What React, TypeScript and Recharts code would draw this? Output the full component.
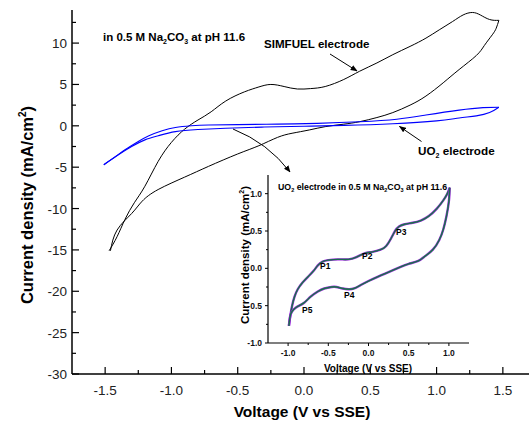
import { LineChart, Line, XAxis, YAxis } from 'recharts';

const FONT = '"Liberation Sans", Arial, Helvetica, sans-serif';

// main panel ticks
const mainXMajor = [-1.5, -1.0, -0.5, 0, 0.5, 1.0, 1.5];
const mainXMinor = [-1.25, -0.75, -0.25, 0.25, 0.75, 1.25];
const mainYMajor = [-30, -25, -20, -15, -10, -5, 0, 5, 10];
const mainYMinor = [-27.5, -22.5, -17.5, -12.5, -7.5, -2.5, 2.5, 7.5, 12.5];

// SIMFUEL electrode, anodic sweep (V vs SSE, mA/cm2)
const simfuelFwdV = [-1.47, -1.41, -1.35, -1.28, -1.2, -1.1, -1.0, -0.9, -0.8, -0.7, -0.59, -0.45, -0.34, -0.25, -0.15, -0.05, 0.05, 0.16, 0.3, 0.42, 0.55, 0.67, 0.8, 0.92, 1.02, 1.12, 1.2, 1.27, 1.33, 1.4, 1.47];
const simfuelFwdI = [-15.1, -13.4, -11.3, -9.3, -7.3, -4.3, -2.0, -0.4, 0.7, 1.7, 3.0, 4.1, 4.7, 5.0, 4.75, 4.45, 4.5, 4.75, 5.6, 6.6, 7.6, 8.6, 9.6, 10.6, 11.6, 12.6, 13.4, 13.7, 13.4, 12.85, 12.75];
// SIMFUEL electrode, cathodic sweep
const simfuelRevV = [1.47, 1.45, 1.42, 1.36, 1.3, 1.17, 1.05, 0.92, 0.8, 0.67, 0.55, 0.42, 0.3, 0.16, 0.04, -0.09, -0.2, -0.34, -0.5, -0.72, -0.9, -1.1, -1.22, -1.3, -1.41, -1.46];
const simfuelRevI = [12.75, 11.8, 11.0, 9.7, 8.5, 6.8, 5.2, 3.6, 2.5, 1.6, 1.0, 0.5, 0.2, -0.1, -0.5, -0.9, -1.4, -2.4, -3.4, -4.9, -6.2, -7.7, -9.1, -10.6, -12.6, -15.1];

// UO2 electrode
const uo2FwdV = [-1.51, -1.42, -1.35, -1.25, -1.17, -1.07, -0.97, -0.85, -0.72, -0.5, -0.2, 0.1, 0.42, 0.7, 0.92, 1.17, 1.35, 1.47];
const uo2FwdI = [-4.7, -3.7, -2.9, -1.9, -1.2, -0.6, -0.2, 0.0, 0.1, 0.15, 0.2, 0.3, 0.5, 0.8, 1.3, 1.9, 2.2, 2.25];
const uo2RevV = [1.47, 1.4, 1.3, 1.17, 1.0, 0.67, 0.3, 0.0, -0.3, -0.59, -0.8, -0.97, -1.1, -1.2, -1.3, -1.4, -1.51];
const uo2RevI = [2.25, 1.6, 1.2, 0.95, 0.6, 0.25, 0.05, -0.05, -0.15, -0.3, -0.45, -0.7, -1.2, -1.7, -2.5, -3.5, -4.7];

// inset: UO2 electrode, repeated cycles
const insetFwdV = [-0.99, -0.97, -0.95, -0.92, -0.88, -0.82, -0.75, -0.68, -0.63, -0.57, -0.5, -0.38, -0.25, -0.15, -0.05, 0.05, 0.15, 0.22, 0.28, 0.33, 0.38, 0.45, 0.55, 0.65, 0.75, 0.85, 0.93, 0.98, 1.01];
const insetFwdI = [-0.77, -0.62, -0.5, -0.38, -0.28, -0.19, -0.11, -0.03, 0.04, 0.09, 0.11, 0.12, 0.12, 0.15, 0.2, 0.22, 0.25, 0.3, 0.4, 0.5, 0.56, 0.59, 0.61, 0.64, 0.7, 0.8, 0.91, 1.0, 1.08];
const insetRevV = [1.01, 1.0, 0.97, 0.93, 0.88, 0.8, 0.7, 0.62, 0.5, 0.4, 0.25, 0.12, 0.0, -0.09, -0.18, -0.25, -0.32, -0.4, -0.46, -0.55, -0.63, -0.72, -0.8, -0.88, -0.93, -0.97, -0.99];
const insetRevI = [1.08, 0.9, 0.7, 0.52, 0.38, 0.25, 0.16, 0.1, 0.06, 0.02, -0.05, -0.11, -0.17, -0.22, -0.27, -0.28, -0.27, -0.25, -0.25, -0.27, -0.31, -0.38, -0.46, -0.51, -0.55, -0.62, -0.77];

const insetXMajor = [-1.0, -0.5, 0, 0.5, 1.0];
const insetXMinor = [-0.75, -0.25, 0.25, 0.75];
const insetYMajor = [-1.0, -0.5, 0, 0.5, 1.0];
const insetYMinor = [-0.75, -0.25, 0.25, 0.75];

const zip = (v: number[], i: number[]) => v.map((x, k) => ({ v: x, i: i[k] }));

const simfuelFwd = zip(simfuelFwdV, simfuelFwdI);
const simfuelRev = zip(simfuelRevV, simfuelRevI);
const uo2Fwd = zip(uo2FwdV, uo2FwdI);
const uo2Rev = zip(uo2RevV, uo2RevI);
const insetFwd = zip(insetFwdV, insetFwdI);
const insetRev = zip(insetRevV, insetRevI);

const fmt1 = (v: number) => (Math.abs(v) < 1e-9 ? '0.0' : v.toFixed(1));

function MainBottomTick(props: any) {
  const { x, y, payload } = props;
  const major = mainXMajor.includes(payload.value);
  return (
    <g>
      <line x1={x} x2={x} y1={y} y2={y - (major ? 7 : 4)} stroke="#000" strokeWidth={1.2} />
      {major && (
        <text x={x} y={y + 21} textAnchor="middle" fontSize={13.5} fill="#222" fontFamily={FONT}>
          {fmt1(payload.value)}
        </text>
      )}
    </g>
  );
}

function MainTopTick(props: any) {
  const { x, y, payload } = props;
  const major = mainXMajor.includes(payload.value);
  return <line x1={x} x2={x} y1={y} y2={y + (major ? 7 : 4)} stroke="#000" strokeWidth={1.2} />;
}

function MainLeftTick(props: any) {
  const { x, y, payload } = props;
  const major = mainYMajor.includes(payload.value);
  return (
    <g>
      <line x1={x} x2={x + (major ? 7 : 4)} y1={y} y2={y} stroke="#000" strokeWidth={1.2} />
      {major && (
        <text x={x - 5} y={y + 5} textAnchor="end" fontSize={13.5} fill="#222" fontFamily={FONT}>
          {payload.value}
        </text>
      )}
    </g>
  );
}

function InsetBottomTick(props: any) {
  const { x, y, payload } = props;
  const major = insetXMajor.includes(payload.value);
  return (
    <g>
      <line x1={x} x2={x} y1={y} y2={y + (major ? 3 : 2)} stroke="#000" />
      {major && (
        <text x={x} y={y + 13} textAnchor="middle" fontSize={8.5} fontWeight="bold" fill="#111" fontFamily={FONT}>
          {fmt1(payload.value)}
        </text>
      )}
    </g>
  );
}

function InsetLeftTick(props: any) {
  const { x, y, payload } = props;
  const major = insetYMajor.includes(payload.value);
  return (
    <g>
      <line x1={x} x2={x - (major ? 3 : 2)} y1={y} y2={y} stroke="#000" />
      {major && (
        <text x={x - 6} y={y + 3} textAnchor="end" fontSize={8.5} fontWeight="bold" fill="#111" fontFamily={FONT}>
          {fmt1(payload.value)}
        </text>
      )}
    </g>
  );
}

function InsetRightTick(props: any) {
  const { x, y, payload } = props;
  const major = insetYMajor.includes(payload.value);
  return <line x1={x} x2={x + (major ? 3 : 2)} y1={y} y2={y} stroke="#000" />;
}

function InsetTopTick(props: any) {
  const { x, y, payload } = props;
  const major = insetXMajor.includes(payload.value);
  return <line x1={x} x2={x} y1={y} y2={y - (major ? 3 : 2)} stroke="#000" />;
}

function InsetChart() {
  const cycles = [
    { key: 'p', color: '#9b1fe0', w: 2.4 },
    { key: 'g', color: '#1a9a3a', w: 1.4 },
    { key: 'b', color: '#1b2a6b', w: 0.5 },
  ];
  return (
    <div style={{ position: 'absolute', left: 230, top: 170 }}>
      <LineChart width={250} height={200} margin={{ top: 5, right: 11, bottom: 0, left: 0 }}>
        <XAxis
          type="number"
          dataKey="v"
          domain={[-1.25, 1.25]}
          allowDataOverflow
          ticks={[...insetXMajor, ...insetXMinor]}
          interval={0}
          tick={InsetBottomTick}
          tickLine={false}
          tickSize={0}
          tickMargin={0}
          height={27}
          axisLine={{ stroke: '#000', strokeWidth: 1.2 }}
        />
        <XAxis
          xAxisId="top"
          orientation="top"
          type="number"
          dataKey="v"
          domain={[-1.25, 1.25]}
          allowDataOverflow
          ticks={[...insetXMajor, ...insetXMinor]}
          interval={0}
          tick={InsetTopTick}
          tickLine={false}
          tickSize={0}
          tickMargin={0}
          height={0}
          axisLine={{ stroke: '#000', strokeWidth: 1.2 }}
        />
        <YAxis
          type="number"
          dataKey="i"
          domain={[-1, 1.25]}
          allowDataOverflow
          ticks={[...insetYMajor, ...insetYMinor]}
          interval={0}
          tick={InsetLeftTick}
          tickLine={false}
          tickSize={0}
          tickMargin={0}
          width={38}
          axisLine={{ stroke: '#000', strokeWidth: 1.2 }}
        />
        <YAxis
          yAxisId="right"
          orientation="right"
          type="number"
          dataKey="i"
          domain={[-1, 1.25]}
          allowDataOverflow
          ticks={[...insetYMajor, ...insetYMinor]}
          interval={0}
          tick={InsetRightTick}
          tickLine={false}
          tickSize={0}
          tickMargin={0}
          width={0}
          axisLine={{ stroke: '#000', strokeWidth: 1.2 }}
        />
        {cycles.map((c) => (
          <Line
            key={c.key + 'f'}
            data={insetFwd}
            dataKey="i"
            type="natural"
            stroke={c.color}
            strokeWidth={c.w}
            dot={false}
            isAnimationActive={false}
          />
        ))}
        {cycles.map((c) => (
          <Line
            key={c.key + 'r'}
            data={insetRev}
            dataKey="i"
            type="natural"
            stroke={c.color}
            strokeWidth={c.w}
            dot={false}
            isAnimationActive={false}
          />
        ))}
      </LineChart>
    </div>
  );
}

function Annotations() {
  const b = { fontFamily: FONT, fontWeight: 'bold' as const, fill: '#000' };
  return (
    <svg width={529} height={426} style={{ position: 'absolute', left: 0, top: 0, pointerEvents: 'none' }}>
      <defs>
        <marker id="ah" viewBox="0 0 10 10" refX="9" refY="5" markerWidth="7" markerHeight="7" orient="auto">
          <path d="M0,1 L10,5 L0,9 z" fill="#000" />
        </marker>
      </defs>
      <text x={103} y={41} fontSize={11.5} {...b}>
        in 0.5 M Na<tspan fontSize={7} dy={3}>2</tspan>
        <tspan dy={-3}>CO</tspan>
        <tspan fontSize={7} dy={3}>3</tspan>
        <tspan dy={-3}> at pH 11.6</tspan>
      </text>
      <text x={264} y={48} fontSize={11.6} {...b}>SIMFUEL electrode</text>
      <line x1={330} y1={54} x2={357} y2={71} stroke="#000" strokeWidth={1} markerEnd="url(#ah)" />
      <text x={418} y={155} fontSize={11.7} {...b}>
        UO<tspan fontSize={7} dy={3}>2</tspan>
        <tspan dy={-3}> electrode</tspan>
      </text>
      <line x1={421.5} y1={141.5} x2={399.5} y2={126.5} stroke="#000" strokeWidth={1} markerEnd="url(#ah)" />
      <path d="M233,129 Q268,143 290,172" fill="none" stroke="#000" strokeWidth={1} markerEnd="url(#ah)" />

      <text transform="translate(33,205) rotate(-90)" textAnchor="middle" fontSize={16.5} {...b}>
        Current density (mA/cm<tspan fontSize={10} dy={-7}>2</tspan>
        <tspan dy={7}>)</tspan>
      </text>
      <text x={302} y={417} textAnchor="middle" fontSize={15.5} {...b}>Voltage (V vs SSE)</text>

      {/* inset texts */}
      <text x={278} y={190} fontSize={8.8} {...b}>
        UO<tspan fontSize={5.5} dy={2}>2</tspan>
        <tspan dy={-2}> electrode in 0.5 M Na</tspan>
        <tspan fontSize={5.5} dy={2}>2</tspan>
        <tspan dy={-2}>CO</tspan>
        <tspan fontSize={5.5} dy={2}>3</tspan>
        <tspan dy={-2}> at pH 11.6</tspan>
      </text>
      <text transform="translate(249,255) rotate(-90)" textAnchor="middle" fontSize={11.5} {...b}>
        Current density  (mA/cm<tspan fontSize={7} dy={-5}>2</tspan>
        <tspan dy={5}>)</tspan>
      </text>
      <text x={368} y={372} textAnchor="middle" fontSize={10} {...b}>Voltage (V vs SSE)</text>
      <text x={320} y={269} fontSize={8.5} {...b}>P1</text>
      <text x={362} y={259} fontSize={8.5} {...b}>P2</text>
      <text x={396} y={235} fontSize={8.5} {...b}>P3</text>
      <text x={344} y={298} fontSize={8.5} {...b}>P4</text>
      <text x={302} y={313} fontSize={8.5} {...b}>P5</text>
    </svg>
  );
}

export default function App() {
  return (
    <div style={{ position: 'absolute', left: 0, top: 0, width: 529, height: 426, overflow: 'hidden', background: '#fff', fontFamily: FONT }}>
      <LineChart width={560} height={426} margin={{ top: 10, right: 24, bottom: 0, left: 0 }}>
        <XAxis
          type="number"
          dataKey="v"
          domain={[-1.75, 1.75]}
          allowDataOverflow
          ticks={[...mainXMajor, ...mainXMinor]}
          interval={0}
          tick={MainBottomTick}
          tickLine={false}
          tickSize={0}
          tickMargin={0}
          height={52}
          axisLine={{ stroke: '#000', strokeWidth: 1.5 }}
        />
        <XAxis
          xAxisId="top"
          orientation="top"
          type="number"
          dataKey="v"
          domain={[-1.75, 1.75]}
          allowDataOverflow
          ticks={[...mainXMajor, ...mainXMinor]}
          interval={0}
          tick={MainTopTick}
          tickLine={false}
          tickSize={0}
          tickMargin={0}
          height={0}
          axisLine={{ stroke: '#000', strokeWidth: 1.5 }}
        />
        <YAxis
          type="number"
          dataKey="i"
          domain={[-30, 14]}
          allowDataOverflow
          ticks={[...mainYMajor, ...mainYMinor]}
          interval={0}
          tick={MainLeftTick}
          tickLine={false}
          tickSize={0}
          tickMargin={0}
          width={72}
          axisLine={{ stroke: '#000', strokeWidth: 1.5 }}
        />
        <Line data={simfuelFwd} dataKey="i" type="natural" stroke="#000" strokeWidth={1} dot={false} isAnimationActive={false} />
        <Line data={simfuelRev} dataKey="i" type="natural" stroke="#000" strokeWidth={1} dot={false} isAnimationActive={false} />
        <Line data={uo2Fwd} dataKey="i" type="natural" stroke="#0000ff" strokeWidth={1.1} dot={false} isAnimationActive={false} />
        <Line data={uo2Rev} dataKey="i" type="natural" stroke="#0000ff" strokeWidth={1.1} dot={false} isAnimationActive={false} />
      </LineChart>
      <InsetChart />
      <Annotations />
    </div>
  );
}
